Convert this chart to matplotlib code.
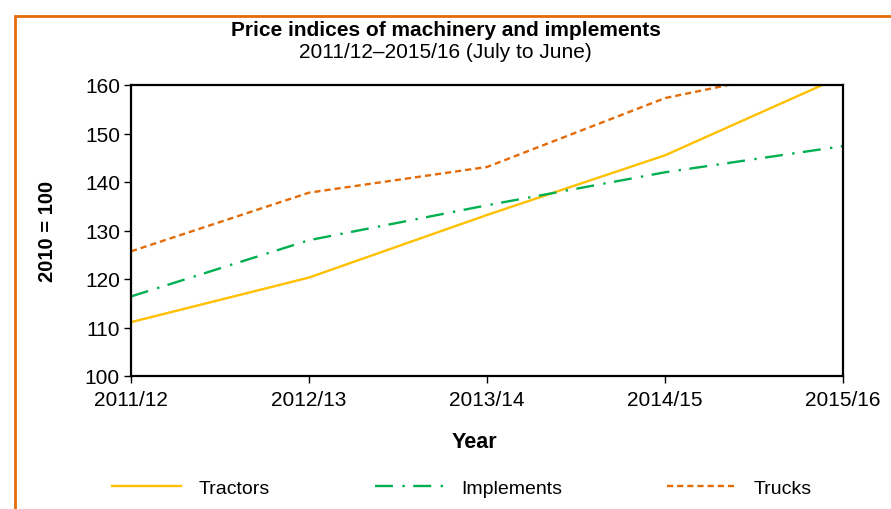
import numpy as np
from matplotlib import pyplot as plt
from matplotlib.patches import Rectangle

plt.rcParams['font.family'] = ['Liberation Sans', 'DejaVu Sans']

years = ['2011/12', '2012/13', '2013/14', '2014/15', '2015/16']
tractors = [111.1, 120.3, 133.2, 145.5, 161.9]
implements = [116.4, 128.0, 135.2, 142.0, 147.4]
trucks = [125.7, 137.8, 143.1, 157.3, 164.9]

fig = plt.figure(figsize=(8.91, 5.10), dpi=100)
ax = fig.add_axes([131/891, 1-377/510, (843-131)/891, (377-86)/510])

x = np.arange(len(years))
ax.plot(x, tractors, color='#FFC000', lw=1.7, ls='-', label='Tractors')
ax.plot(x, implements, color='#00B050', lw=1.7, dashes=[7.6, 4, 1, 3.6], label='Implements')
ax.plot(x, trucks, color='#E36C09', lw=1.7, dashes=[2.6, 1.7], label='Trucks')

ax.set_xlim(0, 4)
ax.set_ylim(100, 160)
ax.set_yticks(np.arange(100, 161, 10))
ax.set_xticks(x)
ax.set_xticklabels(years)
ax.tick_params(labelsize=15, direction='out', length=5, width=1)
ax.tick_params(axis='x', pad=5)
ax.tick_params(axis='y', pad=3)
for s in ax.spines.values():
    s.set_linewidth(1.6)

ax.set_xlabel('Year', fontsize=15.5, fontweight='bold')
ax.xaxis.set_label_coords(0.483, -0.19)
ax.set_ylabel('2010 = 100', fontsize=14.5, fontweight='bold', labelpad=20)

fig.text(0.5, 1-30/510, 'Price indices of machinery and implements', ha='center', va='center',
         fontsize=15, fontweight='bold')
fig.text(0.5, 1-52/510, '2011/12\u20132015/16 (July to June)', ha='center', va='center', fontsize=15)

fig.legend(loc='center', bbox_to_anchor=(462/891, 1-489/510), ncol=3, frameon=False,
           fontsize=14, handlelength=3.55, handletextpad=0.9, columnspacing=5.4)

fig.patches.append(Rectangle((15/891, -0.1), 1.2, 1-17/510+0.1, transform=fig.transFigure,
                             fill=False, edgecolor='#E46C0A', lw=2))

plt.savefig('out.png')
